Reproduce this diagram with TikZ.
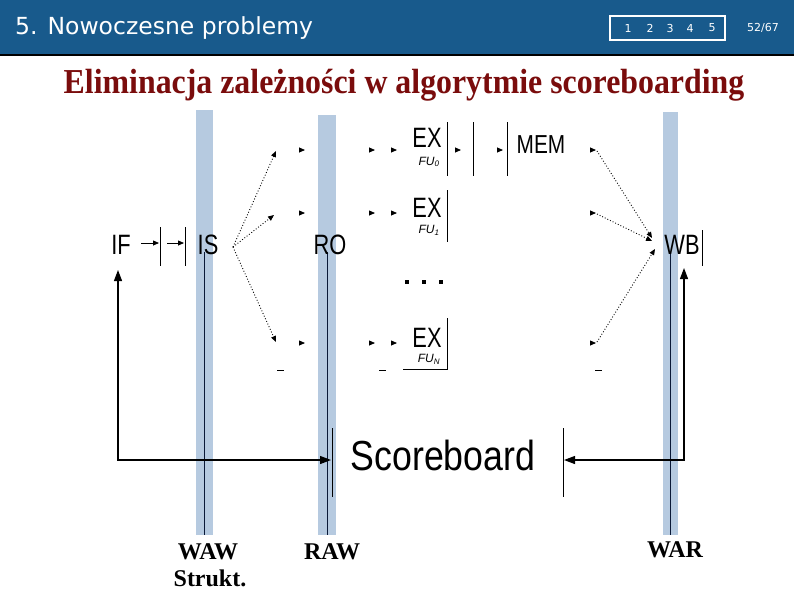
\documentclass[tikz,border=0pt]{standalone}
\usepackage{fontspec}
\setmainfont{Liberation Serif}
\newfontfamily\arialf{Liberation Sans}
\newfontfamily\dejavu{DejaVu Sans}
\usetikzlibrary{arrows.meta}
\definecolor{hdr}{RGB}{24,90,140}
\definecolor{barc}{RGB}{182,202,224}
\definecolor{ttl}{RGB}{122,12,12}
\definecolor{navy}{RGB}{10,25,55}
\newcommand\fs[1]{\fontsize{#1}{#1}\selectfont}
\newcommand\cz[1]{\scalebox{0.78}[1]{#1}}
\begin{document}
\begin{tikzpicture}[x=1pt,y=-1pt,
  lbl/.style={inner sep=0pt, font=\arialf\fs{28}},
  fu/.style={inner sep=0pt, font=\arialf\itshape\fs{12}},
  wlbl/.style={inner sep=0pt, font=\bfseries\fs{24}},
  reg/.style={line width=1pt},
  sarrow/.style={line width=0.8pt, -{Triangle[length=6pt,width=5pt]}},
  dotarrow/.style={line width=0.9pt, dotted, -{Triangle[length=6pt,width=5pt]}},
  fb/.style={line width=1.2pt, {Triangle[length=11pt,width=8pt]}-{Triangle[length=11pt,width=8pt]}},
  bar/.style={fill=barc},
  barline/.style={navy, line width=0.9pt}]
\useasboundingbox (0,0) rectangle (794,595);
\fill[white] (0,0) rectangle (794,595);
% header
\fill[hdr] (0,0) rectangle (794,55);
\draw[black, line width=1.5pt] (0,55) -- (794,55);
\node[anchor=west, text=white, font=\dejavu\fs{23.5}, inner sep=0pt] (hd) at (15,28) {5. Nowoczesne problemy};
\node[draw=white, line width=1.2pt, minimum width=115, minimum height=24, inner sep=0pt] (nav) at (667.5,28) {};
\foreach \n/\x in {1/628,2/650,3/670,4/690,5/712}
  \node[text=white, font=\dejavu\fs{11}, inner sep=0pt] (nav\n) at (\x,28) {\n};
\node[text=white, font=\dejavu\fs{11}, inner sep=0pt] (pg) at (763,28) {52/67};
% title
\node[text=ttl, font=\bfseries\fs{35}, inner sep=0pt] (title) at (404,85) {\scalebox{0.91}[1]{Eliminacja zależności w algorytmie scoreboarding}};
% bars
\fill[bar] (196,110) rectangle (213,535);
\fill[bar] (318,115) rectangle (336,535);
\fill[bar] (663,112) rectangle (678,535);
\draw[barline] (204,252) -- (204,535);
\draw[barline] (327,252) -- (327,535);
\draw[barline] (670,252) -- (670,535);
% stage labels
\node[lbl] (IF) at (121,245) {\cz{IF}};
\node[lbl] (IS) at (208,245) {\cz{IS}};
\node[lbl] (RO) at (330,245) {\cz{RO}};
\node[lbl] (WB) at (682,245) {\cz{WB}};
\node[lbl] (EX0) at (427,138) {\cz{EX}};
\node[lbl] (EX1) at (427,208) {\cz{EX}};
\node[lbl] (EXN) at (427,338) {\cz{EX}};
\node[lbl, font=\arialf\fs{26}] (MEM) at (541,145) {\scalebox{0.8}[1]{MEM}};
\node[fu] (FU0) at (429,162) {FU\textsubscript{0}};
\node[fu] (FU1) at (429,230) {FU\textsubscript{1}};
\node[fu] (FUN) at (429,359) {FU\textsubscript{N}};
\node[lbl, font=\arialf\fs{42}] (SB) at (443,455) {\scalebox{0.85}[1]{Scoreboard}};
% dots
\foreach \x in {407,424,441} \fill (\x-2,280) rectangle (\x+2,284);
% pipeline registers
\draw[reg] (160,227) -- (160,266);
\draw[reg] (185,227) -- (185,266);
\draw[reg] (702,230) -- (702,266);
\draw[reg] (447,122) -- (447,176);
\draw[reg] (473,122) -- (473,176);
\draw[reg] (507,122) -- (507,176);
\draw[reg] (447,190) -- (447,242);
\draw[reg] (447,318) -- (447,369) -- (403,369);
\draw[reg] (332,428) -- (332,497);
\draw[reg] (563,428) -- (563,497);
% IF arrows
\draw[sarrow] (141,243) -- (159,243);
\draw[sarrow] (167,243) -- (184,243);
% dotted issue arrows
\coordinate (isout) at (233,247);
\coordinate (t0) at (276,151);
\coordinate (t1) at (274,215);
\coordinate (tN) at (276,342);
\draw[dotarrow] (isout) -- (t0);
\draw[dotarrow] (isout) -- (t1);
\draw[dotarrow] (isout) -- (tN);
% small arrowheads
\foreach \x in {305,375,397,461,503} \draw[sarrow] (\x-6,150) -- (\x,150);
\foreach \x in {305,375,397} \draw[sarrow] (\x-6,213) -- (\x,213);
\foreach \x in {305,375,397} \draw[sarrow] (\x-6,343) -- (\x,343);
\foreach \y in {150,213,343} \draw[sarrow] (590,\y) -- (596,\y);
% dotted writeback arrows
\coordinate (w0) at (597,151);
\coordinate (w1) at (597,214);
\coordinate (wN) at (597,342);
\draw[dotarrow] (w0) -- (652,238);
\draw[dotarrow] (w1) -- (652,241);
\draw[dotarrow] (wN) -- (655,249);
% dashes
\draw[line width=1pt] (277,370) -- (284,370);
\draw[line width=1pt] (379,370) -- (386,370);
\draw[line width=1pt] (595,370) -- (602,370);
% feedback
\coordinate (sbL) at (331,460);
\coordinate (sbR) at (564,460);
\draw[fb] (118,270) |- (sbL);
\draw[fb] (sbR) -| (684,268);
% bottom labels
\node[wlbl] (waw) at (208,552) {WAW};
\node[wlbl] (strukt) at (210,578) {Strukt.};
\node[wlbl] (raw) at (332,552) {RAW};
\node[wlbl] (war) at (675,550) {WAR};
\end{tikzpicture}
\end{document}
